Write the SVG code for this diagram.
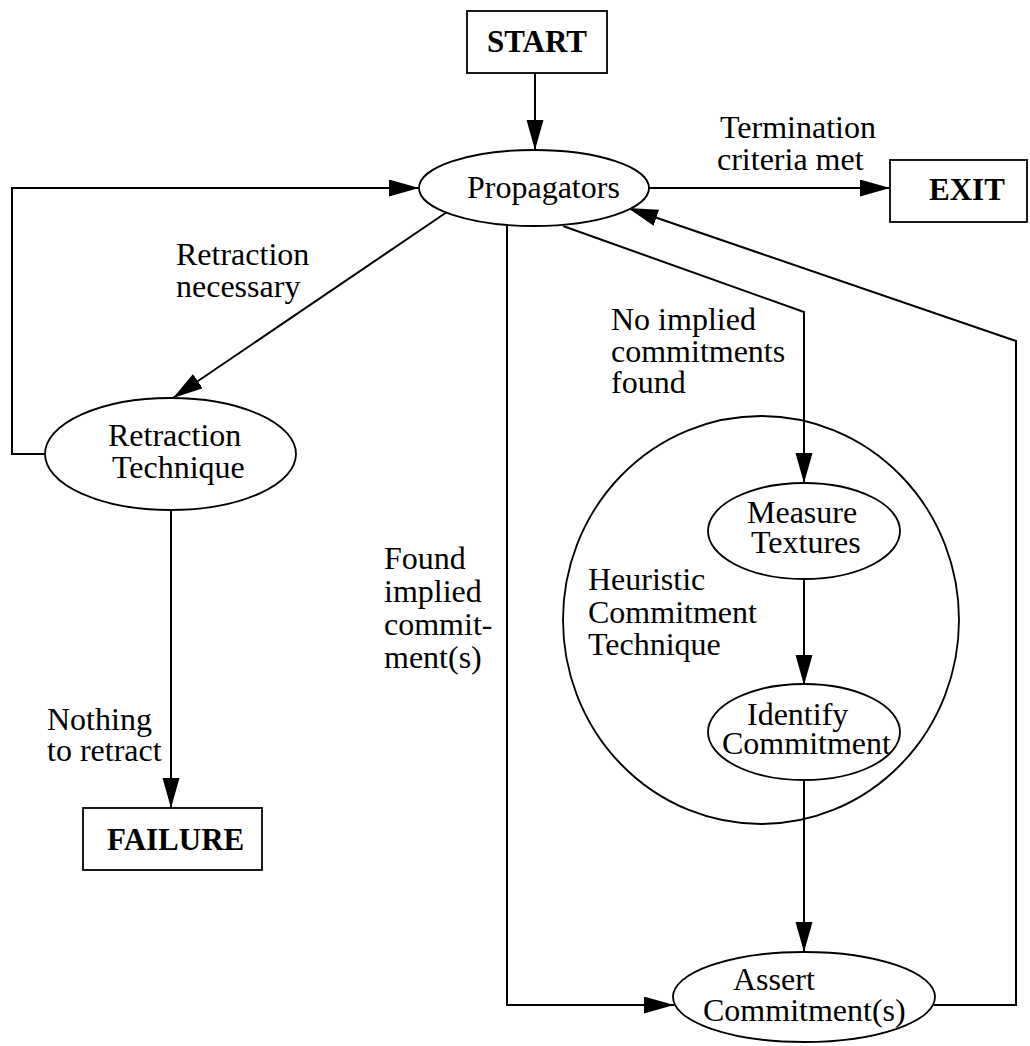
<svg xmlns="http://www.w3.org/2000/svg" width="1030" height="1046" viewBox="0 0 1030 1046">
<style>
text{font-family:"Liberation Serif","Times New Roman",serif;font-size:32px;fill:#000}
.b{font-weight:bold;font-size:31px}
.shape{fill:#fff;stroke:#000;stroke-width:1.8}
.edge{fill:none;stroke:#000;stroke-width:2}
.arr{marker-end:url(#ah)}
</style>
<defs>
<marker id="ah" markerUnits="userSpaceOnUse" markerWidth="32" markerHeight="18" refX="30" refY="8.5" orient="auto">
<path d="M0,0 L30,8.5 L0,17 Z" fill="#000"/>
</marker>
</defs>
<rect width="1030" height="1046" fill="#fff"/>
<g id="heuristic">
<ellipse class="shape" cx="761" cy="620" rx="198" ry="204"/>
<text x="588" y="590">Heuristic</text>
<text x="588" y="623">Commitment</text>
<text x="588" y="655">Technique</text>
</g>
<g id="connectors">
<path class="edge arr" d="M535,73 V150"/>
<path class="edge arr" d="M649,188 H890"/>
<path class="edge arr" d="M45,454 H12 V188 H419"/>
<path class="edge arr" d="M447,212 L173,398"/>
<path class="edge arr" d="M171,510 V808"/>
<path class="edge arr" d="M563,226 L804,312 V483"/>
<path class="edge arr" d="M507,225 V1005 H674"/>
<path class="edge arr" d="M804,579 V685"/>
<path class="edge arr" d="M804,780 V952"/>
<path class="edge arr" d="M934,1005 H1016 V341 L628,208"/>
<text x="720" y="138">Termination</text>
<text x="717" y="170">criteria met</text>
<text x="176" y="265">Retraction</text>
<text x="176" y="297">necessary</text>
<text x="611" y="330">No implied</text>
<text x="611" y="362">commitments</text>
<text x="611" y="393">found</text>
<text x="384" y="569">Found</text>
<text x="384" y="602">implied</text>
<text x="384" y="635">commit-</text>
<text x="384" y="668">ment(s)</text>
<text x="47" y="730">Nothing</text>
<text x="47" y="761">to retract</text>
</g>
<g id="start">
<rect class="shape" x="467" y="11" width="140" height="62"/>
<text class="b" x="537" y="52" text-anchor="middle">START</text>
</g>
<g id="propagators">
<ellipse class="shape" cx="534" cy="188" rx="115" ry="38"/>
<text x="467" y="198">Propagators</text>
</g>
<g id="exit">
<rect class="shape" x="890" y="160" width="137" height="62"/>
<text class="b" x="929" y="200">EXIT</text>
</g>
<g id="retraction">
<ellipse class="shape" cx="170.5" cy="454" rx="125.5" ry="56"/>
<text x="108" y="446">Retraction</text>
<text x="112" y="478">Technique</text>
</g>
<g id="failure">
<rect class="shape" x="83" y="808" width="179" height="62"/>
<text class="b" x="107" y="850">FAILURE</text>
</g>
<g id="measure">
<ellipse class="shape" cx="804" cy="531" rx="96" ry="48"/>
<text x="747" y="523">Measure</text>
<text x="751" y="553">Textures</text>
</g>
<g id="identify">
<ellipse class="shape" cx="804" cy="732" rx="96" ry="48"/>
<text x="747" y="725">Identify</text>
<text x="722" y="754">Commitment</text>
</g>
<g id="assert">
<ellipse class="shape" cx="804" cy="997" rx="131" ry="45"/>
<text x="733" y="990">Assert</text>
<text x="703" y="1021">Commitment(s)</text>
</g>
</svg>
